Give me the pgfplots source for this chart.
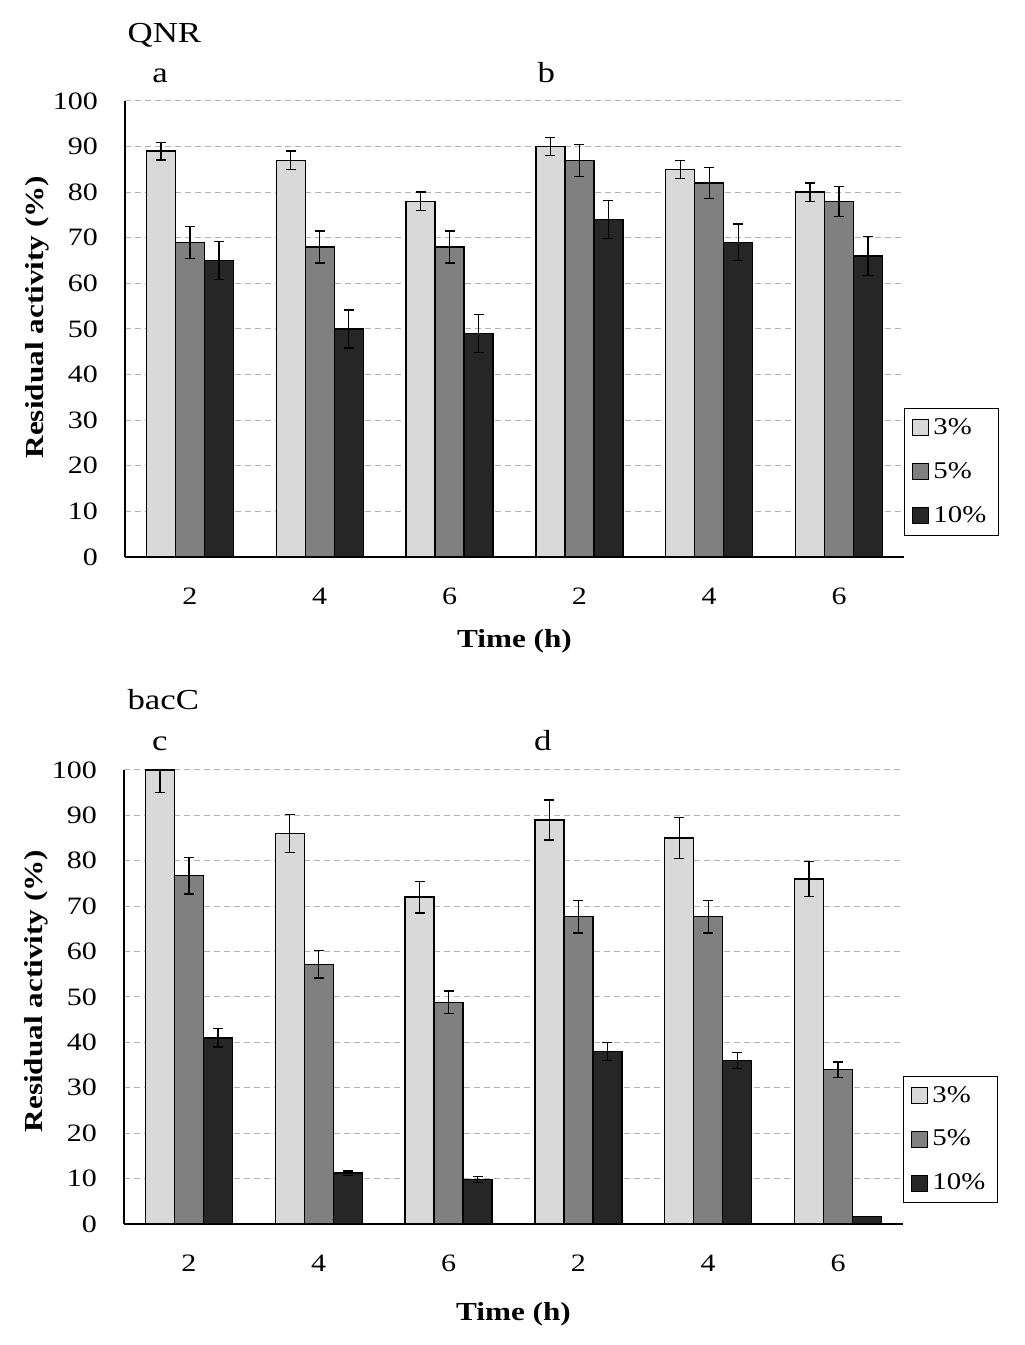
\documentclass[border=0pt]{standalone}
\usepackage{fontspec}
\setmainfont{Liberation Serif}[FakeStretch=1.2]
\usepackage{pgfplots}
\pgfplotsset{compat=1.18}

\definecolor{c3}{HTML}{D9D9D9}
\definecolor{c5}{HTML}{808080}
\definecolor{c10}{HTML}{262626}

\pgfplotsset{
 myaxis/.style={
  scale only axis, width=389.5pt, height=228pt,
  xmin=-0.5, xmax=5.5, ymin=0, ymax=100,
  axis lines*=left, axis line style={black, line width=0.8pt},
  ytick={0,10,...,100}, xtick={0,1,2,3,4,5}, xticklabels={2,4,6,2,4,6},
  tick style={draw=none},
  ymajorgrids, major grid style={gray!60, dash pattern=on 3pt off 2pt, line width=0.5pt},
  ybar=0pt, bar width=14.5pt,
  clip mode=individual,
  /pgf/number format/assume math mode=true,
  tick label style={font=\fontsize{12.5}{15}\selectfont},
  yticklabel style={xshift=-10pt},
  xticklabel style={yshift=-7.5pt},
  label style={font=\bfseries\fontsize{13}{15}\selectfont},
  ylabel={Residual activity (\%)},
  xlabel={Time (h)},
  xlabel style={at={(axis description cs:0.5,0)}, anchor=center, yshift=-42pt},
  legend style={at={(1,0.327)}, anchor=north west, draw=black, line width=0.5pt,
    font=\fontsize{12}{14}\selectfont, row sep=8.5pt, inner xsep=4pt, inner ysep=3pt},
  legend cell align=left,
  legend image code/.code={\draw[#1, line width=0.5pt] (0pt,-4pt) rectangle (8pt,4pt);},
  every axis plot/.append style={draw=black, line width=0.7pt,
    /pgfplots/error bars/y dir=both, /pgfplots/error bars/y explicit,
    /pgfplots/error bars/error bar style={black, line width=0.7pt},
    /pgfplots/error bars/error mark options={black, rotate=90, mark size=2.5pt, line width=0.7pt}},
 }
}

\begin{document}
\begin{tikzpicture}
\path[use as bounding box] (0,0) rectangle (512pt,672.5pt);

% ---------------- top: QNR ----------------
\begin{axis}[myaxis, at={(62.5pt,394pt)}, anchor=south west,
  ylabel style={at={(axis description cs:-0.113,0.526)}, anchor=center}]
\addplot[fill=c3] coordinates {
 (0,89) +- (0,1.9) (1,87) +- (0,2) (2,78) +- (0,2)
 (3,90) +- (0,2) (4,85) +- (0,2) (5,80) +- (0,2)};
\addplot[fill=c5] coordinates {
 (0,69) +- (0,3.5) (1,68) +- (0,3.5) (2,68) +- (0,3.5)
 (3,87) +- (0,3.5) (4,82) +- (0,3.4) (5,78) +- (0,3.3)};
\addplot[fill=c10] coordinates {
 (0,65) +- (0,4.2) (1,50) +- (0,4.2) (2,49) +- (0,4.2)
 (3,74) +- (0,4.2) (4,69) +- (0,4) (5,66) +- (0,4.3)};
\legend{3\%,5\%,10\%}
\node[anchor=base west, inner sep=0pt, font=\fontsize{14.5}{16}\selectfont] at (rel axis cs:0.003,1.129) {QNR};
\node[anchor=base, inner sep=0pt, font=\fontsize{14.5}{16}\selectfont] at (rel axis cs:0.045,1.0406) {a};
\node[anchor=base, inner sep=0pt, font=\fontsize{14.5}{16}\selectfont] at (rel axis cs:0.541,1.0406) {b};
\end{axis}

% ---------------- bottom: bacC ----------------
\begin{axis}[myaxis, at={(62pt,60.5pt)}, anchor=south west, height=227pt,
  ylabel style={at={(axis description cs:-0.113,0.513)}, anchor=center},
  xlabel style={yshift=-3pt}]
\addplot[fill=c3] coordinates {
 (0,100) +- (0,5) (1,86) +- (0,4.2) (2,72) +- (0,3.5)
 (3,89) +- (0,4.4) (4,85) +- (0,4.5) (5,76) +- (0,3.8)};
\addplot[fill=c5] coordinates {
 (0,76.7) +- (0,4) (1,57.2) +- (0,3) (2,48.8) +- (0,2.5)
 (3,67.7) +- (0,3.6) (4,67.7) +- (0,3.6) (5,34) +- (0,1.7)};
\addplot[fill=c10] coordinates {
 (0,41) +- (0,2) (1,11.2) +- (0,0.5) (2,9.8) +- (0,0.7)
 (3,38) +- (0,2) (4,36) +- (0,1.8) (5,1.6) +- (0,0)};
\legend{3\%,5\%,10\%}
\node[anchor=base west, inner sep=0pt, font=\fontsize{14.5}{16}\selectfont] at (rel axis cs:0.004,1.1326) {bacC};
\node[anchor=base, inner sep=0pt, font=\fontsize{14.5}{16}\selectfont] at (rel axis cs:0.046,1.0434) {c};
\node[anchor=base, inner sep=0pt, font=\fontsize{14.5}{16}\selectfont] at (rel axis cs:0.5375,1.0434) {d};
\end{axis}
\end{tikzpicture}
\end{document}
